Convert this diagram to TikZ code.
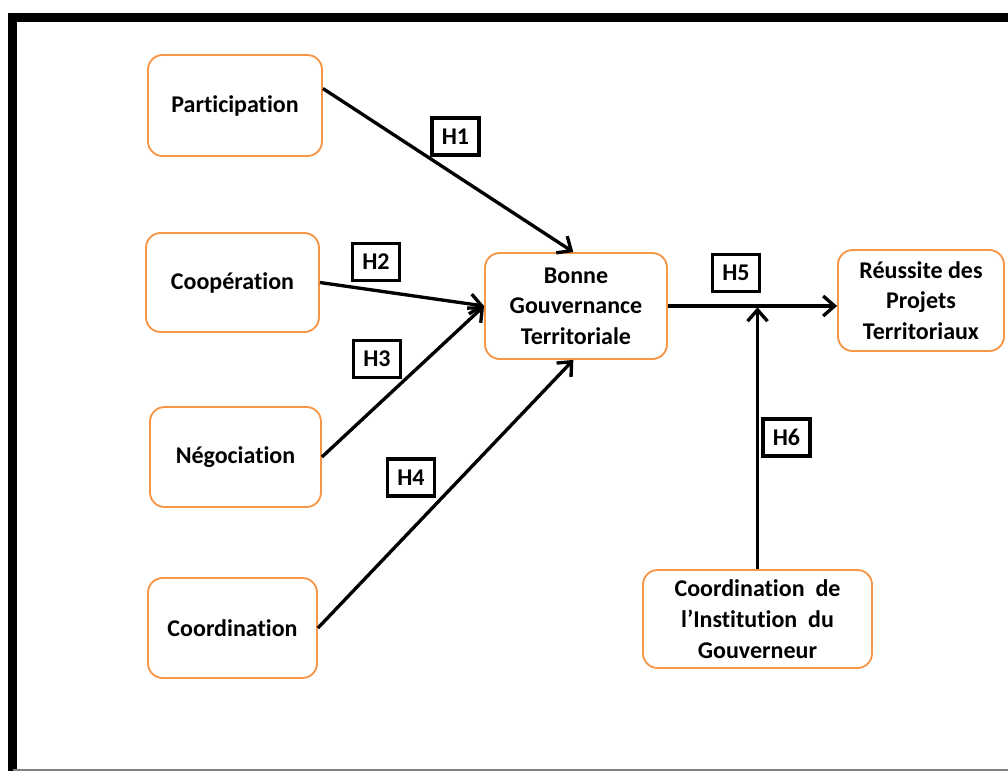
\documentclass[tikz,border=0pt]{standalone}
\usepackage{fontspec}
\setmainfont{Carlito}[Ligatures=NoCommon]
\usepackage{tikz}
\usetikzlibrary{arrows.meta,positioning}
\definecolor{boxorange}{RGB}{247,150,70}
\tikzset{
    % boxes for the variables
    varbox/.style={
        draw=boxorange,
        line width=1.4pt,
        rounded corners=11pt,
        align=center,
        inner sep=2pt,
        font=\bfseries\fontsize{18}{23}\selectfont
    },
    % small boxes for the hypotheses
    hypbox/.style={
        draw=black,
        line width=2.6pt,
        minimum width=35pt,
        minimum height=28pt,
        inner sep=0pt,
        font=\bfseries\fontsize{18}{22}\selectfont
    },
    linkarrow/.style={
        line width=2.5pt,
        black,
        -{Straight Barb[length=8.5pt, width=15pt]}
    }
}
\begin{document}
\begin{tikzpicture}[x=0.75pt, y=-0.75pt]
    \useasboundingbox (0,0) rectangle (1008,771);
    \clip (0,0) rectangle (1008,771);
    % frame
    \draw[line width=6.75pt] (12.5,800) -- (12.5,17.5) -- (1030,17.5);
    \draw[gray, line width=1.2pt] (12.5,770) -- (1008,770);
    % variables
    \node[varbox, minimum width=130.5pt, minimum height=75.75pt] (part) at (235,105.5) {Participation};
    \node[varbox, minimum width=129.75pt, minimum height=74.25pt] (coop) at (232.5,282.5) {Coopération};
    \node[varbox, minimum width=128.25pt, minimum height=75pt] (nego) at (235.5,457) {Négociation};
    \node[varbox, minimum width=126.75pt, minimum height=75pt] (coord) at (232.5,628) {Coordination};
    \node[varbox, minimum width=136.5pt, minimum height=79.5pt] (bgt) at (576,306) {Bonne\\Gouvernance\\Territoriale};
    \node[varbox, minimum width=124.5pt, minimum height=75.75pt] (reus) at (921,300.5) {Réussite des\\Projets\\Territoriaux};
    \node[varbox, minimum width=171.75pt, minimum height=73.5pt] (gouv) at (757.5,619) {Coordination~~de\\l’Institution~~du\\Gouverneur};
    \coordinate (junc) at (gouv.north |- bgt.east);
    % hypotheses
    \node[hypbox] (h1) at (455.5,136.5) {H1};
    \node[hypbox] (h2) at (376,262) {H2};
    \node[hypbox] (h3) at (377,359) {H3};
    \node[hypbox] (h4) at (411,477.5) {H4};
    \node[hypbox] (h5) at (736,273) {H5};
    \node[hypbox] (h6) at (786.5,437.5) {H6};
    % links
    \draw[linkarrow] ([yshift=12.75pt]part.east) -- ([xshift=-2pt]bgt.north);
    \draw[linkarrow] (coop.east) -- (bgt.west);
    \draw[linkarrow] (nego.east) -- (bgt.west);
    \draw[linkarrow] (coord.east) -- ([xshift=-2pt]bgt.south);
    \draw[linkarrow] (bgt.east) -- (bgt.east -| reus.west);
    \draw[linkarrow, shorten >=-1pt] (gouv.north) -- ([yshift=-2pt]junc);
\end{tikzpicture}
\end{document}
